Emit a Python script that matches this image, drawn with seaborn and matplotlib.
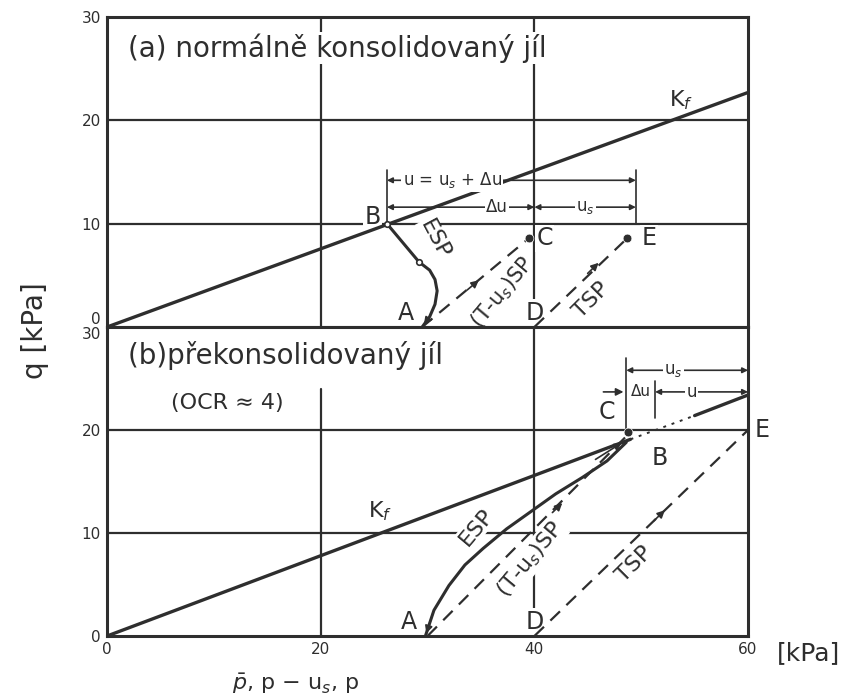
import numpy as np
import pandas as pd
import seaborn as sns
import matplotlib.pyplot as plt

# ---- data (p in kPa, q in kPa) ----
# (a) normally consolidated clay
kf_a_p = [0, 60]
kf_a_q = [0, 22.7]
esp_a_p = [29.5, 30.2, 30.7, 30.9, 30.7, 30.2, 29.2, 26.2]
esp_a_q = [0.0, 1.0, 2.2, 3.5, 4.6, 5.5, 6.3, 10.0]
tus_a_p = [29.5, 39.5]
tus_a_q = [0.0, 8.6]
tsp_a_p = [40.0, 48.7]
tsp_a_q = [0.0, 8.6]
pts_a = {'A': (29.5, 0.0), 'B': (26.2, 10.0), 'C': (39.5, 8.6), 'D': (40.0, 0.0), 'E': (48.7, 8.6)}
dim_a_p = [26.2, 40.0, 49.5]      # u = us + du, du, us
dim_a_q = [14.2, 11.6]

# (b) overconsolidated clay (OCR ~ 4)
kf_b_p = [0, 49.0, 55.0, 60]
kf_b_q = [0, 19.1, 21.4, 23.4]
esp_b_p = [29.8, 30.6, 32.0, 33.5, 35.2, 37.4, 39.7, 42.0, 44.5, 46.8, 48.6]
esp_b_q = [0.0, 2.5, 4.9, 6.9, 8.5, 10.4, 12.1, 13.8, 15.4, 17.0, 18.8]
tus_b_p = [30.0, 48.8]
tus_b_q = [0.0, 19.6]
tsp_b_p = [40.0, 60.0]
tsp_b_q = [0.0, 20.0]
pts_b = {'A': (30.0, 0.0), 'B': (50.5, 18.0), 'C': (48.8, 19.8), 'D': (40.0, 0.0), 'E': (60.0, 20.0)}
dim_b_p = [48.6, 51.3, 60.0]      # du | u, us
dim_b_q = [25.8, 23.7]

x_ticks = [0, 20, 40, 60]
y_ticks = [0, 10, 20, 30]

ink = '#2e2e2e'
sns.set_style('white')
plt.rcParams['font.family'] = ['DejaVu Sans']
plt.rcParams['mathtext.fontset'] = 'dejavusans'

fig = plt.figure(figsize=(8.63, 6.98), dpi=100)
ax_a = fig.add_axes([0.124, 0.5315, 0.7428, 0.4441])
ax_b = fig.add_axes([0.124, 0.0888, 0.7428, 0.4427])
wbox = dict(facecolor='white', edgecolor='none', pad=1.0)


def path(ax, p, q, ls='-', lw=2.0):
    sns.lineplot(x=p, y=q, ax=ax, sort=False, estimator=None, color=ink, lw=lw, linestyle=ls)


def head(ax, p0, q0, p1, q1):
    ax.annotate('', xy=(p1, q1), xytext=(p0, q0),
                arrowprops=dict(arrowstyle='-|>', color=ink, lw=1.2, mutation_scale=11))


def dim(ax, p0, p1, q, label, xt, fs=12):
    ax.annotate('', xy=(p0, q), xytext=(p1, q),
                arrowprops=dict(arrowstyle='<|-|>', color=ink, lw=1.2, mutation_scale=8,
                                shrinkA=0, shrinkB=0))
    ax.text(xt, q, label, ha='center', va='center', fontsize=fs, color=ink, bbox=wbox, zorder=5)


def label(ax, p, q, s, ha='left', va='center', fs=17, **kw):
    # zorder below the path lines: the white box only cuts the grid lines
    ax.text(p, q, s, fontsize=fs, color=ink, ha=ha, va=va, bbox=wbox, zorder=1.5, **kw)


for ax in (ax_a, ax_b):
    ax.set_xlim(0, 60)
    ax.set_ylim(0, 30)
    for s in ax.spines.values():
        s.set_color(ink)
        s.set_linewidth(2.2)
    ax.axvline(40, color=ink, lw=1.6, zorder=1)
    for yv in (10, 20):
        ax.axhline(yv, color=ink, lw=1.6, zorder=1)
    ax.set_xticks(x_ticks)
    ax.set_yticks(y_ticks)
    ax.set_yticklabels([str(v) for v in y_ticks])
    ax.tick_params(axis='both', direction='inout', length=5, width=1.2, color=ink,
                   labelsize=11, labelcolor=ink, pad=2)
    ax.set_xlabel('')
    ax.set_ylabel('')

ax_a.axvline(20, color=ink, lw=1.6, zorder=1)
ax_b.axvline(20, ymax=0.8, color=ink, lw=1.6, zorder=1)

ax_a.set_xticklabels([])
ax_a.tick_params(axis='x', length=0)
ax_a.get_yticklabels()[0].set_va('bottom')
ax_b.get_yticklabels()[-1].set_va('top')
ax_b.set_xticklabels([str(v) for v in x_ticks])

# ---- panel (a) ----
path(ax_a, kf_a_p, kf_a_q, lw=2.4)
path(ax_a, esp_a_p, esp_a_q, lw=2.2)
path(ax_a, tus_a_p, tus_a_q, ls=(0, (6, 4)), lw=1.6)
path(ax_a, tsp_a_p, tsp_a_q, ls=(0, (6, 4)), lw=1.6)
sns.scatterplot(x=[pts_a['C'][0], pts_a['E'][0]], y=[pts_a['C'][1], pts_a['E'][1]],
                ax=ax_a, color=ink, s=40, zorder=6)
ax_a.plot(*pts_a['B'], marker='o', ms=4, mfc='white', mec=ink, mew=1.2, zorder=6)
ax_a.plot(esp_a_p[6], esp_a_q[6], marker='o', ms=4, mfc='white', mec=ink, mew=1.2, zorder=6)
head(ax_a, esp_a_p[1], esp_a_q[1], esp_a_p[0], esp_a_q[0])
head(ax_a, 33.5, 3.4, 35.0, 4.7)
head(ax_a, 44.8, 5.0, 46.2, 6.4)

ax_a.text(2.0, 27.0, '(a) normálně konsolidovaný jíl', fontsize=20, color=ink,
          va='center', bbox=wbox, zorder=5)
ax_a.text(52.6, 20.8, 'K$_f$', fontsize=16, color=ink, ha='left', va='bottom')
label(ax_a, 25.6, 10.6, 'B', ha='right')
label(ax_a, 40.2, 8.6, 'C')
label(ax_a, 50.0, 8.6, 'E')
label(ax_a, 28.7, 1.4, 'A', ha='right')
label(ax_a, 39.2, 1.4, 'D')
ax_a.text(30.7, 8.5, 'ESP', fontsize=16, color=ink, rotation=-62, ha='center', va='center',
          bbox=wbox, zorder=1.5)
ax_a.text(37.0, 3.3, '(T-u$_s$)SP', fontsize=15, color=ink, rotation=50, ha='center',
          va='center', zorder=1.5)
ax_a.text(45.3, 2.6, 'TSP', fontsize=16, color=ink, rotation=45, ha='center', va='center',
          bbox=wbox, zorder=1.5)

for pv in (dim_a_p[0], dim_a_p[2]):
    ax_a.plot([pv, pv], [10.0, 15.2], color=ink, lw=1.2)
dim(ax_a, dim_a_p[0], dim_a_p[2], dim_a_q[0], 'u = u$_s$ + Δu', 32.3)
dim(ax_a, dim_a_p[0], dim_a_p[1], dim_a_q[1], 'Δu', 36.5)
dim(ax_a, dim_a_p[1], dim_a_p[2], dim_a_q[1], 'u$_s$', 44.8)

# ---- panel (b) ----
path(ax_b, kf_b_p[:2], kf_b_q[:2], lw=2.4)
path(ax_b, kf_b_p[1:3], kf_b_q[1:3], ls=(0, (1.5, 3)), lw=1.4)
path(ax_b, kf_b_p[2:], kf_b_q[2:], lw=2.4)
path(ax_b, esp_b_p, esp_b_q, lw=2.2)
path(ax_b, tus_b_p, tus_b_q, ls=(0, (6, 4)), lw=1.6)
path(ax_b, tsp_b_p, tsp_b_q, ls=(0, (6, 4)), lw=1.6)
sns.scatterplot(x=[pts_b['C'][0]], y=[pts_b['C'][1]], ax=ax_b, color=ink, s=40, zorder=6)
head(ax_b, esp_b_p[1], esp_b_q[1], esp_b_p[0], esp_b_q[0])
head(ax_b, 41.5, 11.8, 42.8, 13.1)
head(ax_b, 51.0, 11.0, 52.4, 12.4)
head(ax_b, 45.5, 17.0, 48.4, 18.9)

ax_b.text(2.0, 27.2, '(b)překonsolidovaný jíl', fontsize=20, color=ink,
          va='center', bbox=wbox, zorder=5)
ax_b.text(6.0, 22.6, '(OCR ≈ 4)', fontsize=16, color=ink, va='center', bbox=wbox, zorder=5)
ax_b.text(24.4, 11.0, 'K$_f$', fontsize=16, color=ink, ha='left', va='bottom')
label(ax_b, 47.6, 20.6, 'C', ha='right', va='bottom')
label(ax_b, 51.0, 17.3, 'B')
ax_b.text(60.6, 20.0, 'E', fontsize=17, color=ink, ha='left', va='center', clip_on=False)
label(ax_b, 29.0, 1.4, 'A', ha='right')
label(ax_b, 39.2, 1.4, 'D')
ax_b.text(34.6, 10.6, 'ESP', fontsize=16, color=ink, rotation=50, ha='center', va='center',
          bbox=wbox, zorder=1.5)
ax_b.text(39.6, 7.4, '(T-u$_s$)SP', fontsize=16, color=ink, rotation=50, ha='center',
          va='center', bbox=wbox, zorder=1.5)
ax_b.text(49.4, 7.0, 'TSP', fontsize=16, color=ink, rotation=45, ha='center', va='center',
          bbox=wbox, zorder=1.5)

ax_b.plot([dim_b_p[0], dim_b_p[0]], [20.0, 27.0], color=ink, lw=1.2)
ax_b.plot([dim_b_p[1], dim_b_p[1]], [21.2, 24.8], color=ink, lw=1.2)
dim(ax_b, dim_b_p[0], dim_b_p[2], dim_b_q[0], 'u$_s$', 53.0)
dim(ax_b, dim_b_p[1], dim_b_p[2], dim_b_q[1], 'u', 54.7)
head(ax_b, 46.2, dim_b_q[1], dim_b_p[0], dim_b_q[1])
ax_b.text(49.95, dim_b_q[1], 'Δu', fontsize=11, color=ink, ha='center', va='center',
          bbox=wbox, zorder=5)

fig.text(0.041, 0.527, 'q [kPa]', rotation=90, fontsize=20, color=ink, ha='center', va='center')
fig.text(0.342, 0.020, r'$\bar{p}$, p − u$_s$, p', fontsize=16, color=ink, ha='center', va='center')
fig.text(0.937, 0.064, '[kPa]', fontsize=18, color=ink, ha='center', va='center')

fig.savefig('out.png', dpi=100, facecolor='white')
